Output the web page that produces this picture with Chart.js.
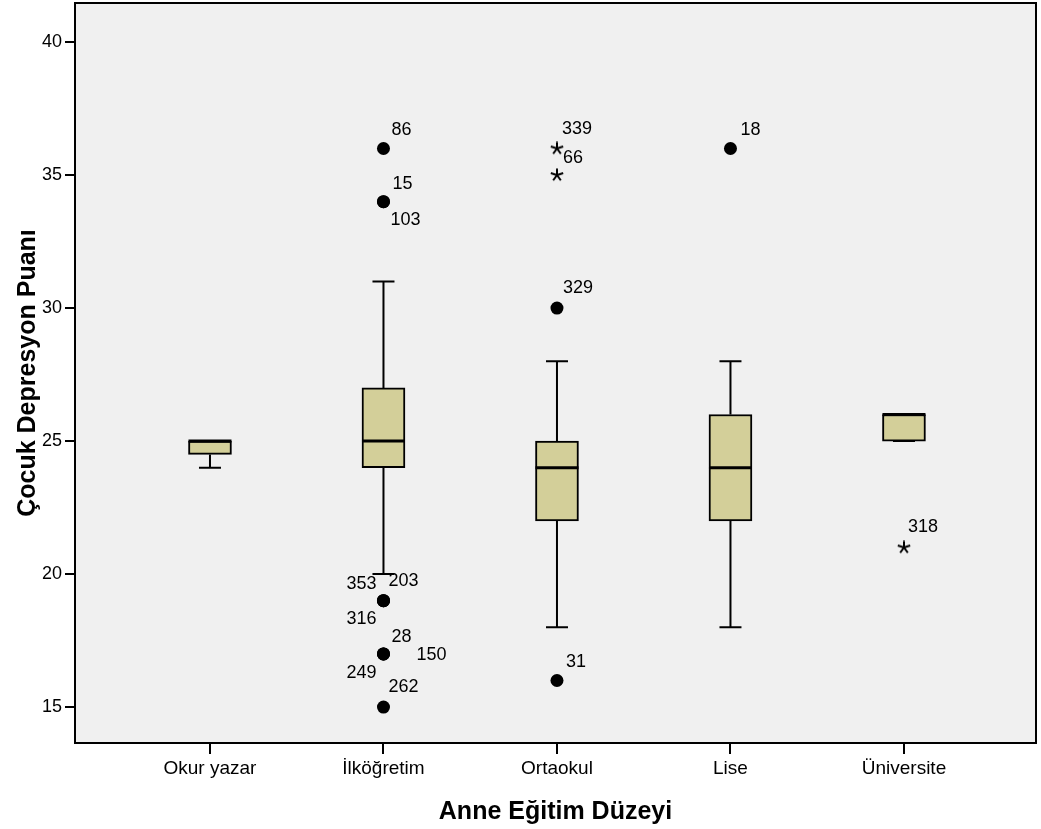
<!DOCTYPE html>
<html>
<head>
<meta charset="utf-8">
<script src="https://cdn.jsdelivr.net/npm/chart.js@4"></script>
<style>
  html, body { margin: 0; padding: 0; background: #fff; }
  #wrap { width: 1041px; height: 829px; }
</style>
</head>
<body>
<div id="wrap"><canvas id="chart" width="1041" height="829"></canvas></div>
<script>
// Box plot data: Çocuk Depresyon Puanı by Anne Eğitim Düzeyi
const categories = ["Okur yazar", "İlköğretim", "Ortaokul", "Lise", "Üniversite"];
const whiskerLow  = [24, 20, 18, 18, 25];
const q1          = [24.5, 24, 22, 22, 25];
const median      = [25, 25, 24, 24, 26];
const q3          = [25, 27, 25, 26, 26];
const whiskerHigh = [25, 31, 28, 28, 26];

// outliers (circles): category index, value, case id
const outCat = [1, 1, 1, 1, 1, 1, 1, 1, 1, 1, 2, 2, 3];
const outVal = [36, 34, 34, 19, 19, 19, 17, 17, 17, 15, 30, 16, 36];
const outId  = ["86", "15", "103", "353", "203", "316", "28", "150", "249", "262", "329", "31", "18"];

// extremes (stars)
const extCat = [2, 2, 4];
const extVal = [36, 35, 21];
const extId  = ["339", "66", "318"];

const yTicks = [15, 20, 25, 30, 35, 40];

// label placement relative to the mark (px)
const labelOffset = {
  "86": [8, -18], "15": [9, -18], "103": [7, 18],
  "353": [-37, -17], "203": [5, -20], "316": [-37, 18],
  "28": [8, -17], "150": [33, 1], "249": [-37, 19], "262": [5, -20],
  "329": [6, -20], "31": [9, -18], "18": [10, -18],
  "339": [5, -19], "66": [6, -17], "318": [4, -20]
};

const FONT = "'Liberation Sans', Arial, sans-serif";
const BOX_FILL = "#d3cf99";

// asterisk marker for extreme values
function makeStar() {
  const c = document.createElement("canvas");
  c.width = 14; c.height = 14;
  const g = c.getContext("2d");
  g.strokeStyle = "#000";
  g.lineWidth = 2;
  for (let k = 0; k < 5; k++) {
    const a = -Math.PI / 2 + k * 2 * Math.PI / 5;
    g.beginPath();
    g.moveTo(7, 7);
    g.lineTo(7 + Math.cos(a) * 6.5, 7 + Math.sin(a) * 6.5);
    g.stroke();
  }
  return c;
}

const plotFrame = {
  id: "plotFrame",
  beforeDraw(chart) {
    const { ctx, chartArea: a } = chart;
    ctx.save();
    ctx.fillStyle = "#f0f0f0";
    ctx.fillRect(a.left, a.top, a.right - a.left, a.bottom - a.top);
    ctx.restore();
  },
  afterDraw(chart) {
    const { ctx, chartArea: a } = chart;
    ctx.save();
    ctx.strokeStyle = "#000";
    ctx.lineWidth = 2;
    ctx.strokeRect(a.left, a.top, a.right - a.left, a.bottom - a.top);
    ctx.restore();
  }
};

// whiskers, caps, medians and case labels drawn from the scales
const boxParts = {
  id: "boxParts",
  beforeDatasetsDraw(chart) {
    const { ctx, scales: { x, y } } = chart;
    ctx.save();
    ctx.strokeStyle = "#000";
    ctx.lineWidth = 2;
    categories.forEach((_, i) => {
      const cx = x.getPixelForValue(i);
      const lo = y.getPixelForValue(whiskerLow[i]);
      const hi = y.getPixelForValue(whiskerHigh[i]);
      const b1 = y.getPixelForValue(q1[i]);
      const b3 = y.getPixelForValue(q3[i]);
      ctx.beginPath();
      ctx.moveTo(cx, lo); ctx.lineTo(cx, b1);
      ctx.moveTo(cx, b3); ctx.lineTo(cx, hi);
      ctx.moveTo(cx - 11, lo); ctx.lineTo(cx + 11, lo);
      ctx.moveTo(cx - 11, hi); ctx.lineTo(cx + 11, hi);
      ctx.stroke();
    });
    ctx.restore();
  },
  afterDatasetsDraw(chart) {
    const { ctx, scales: { x, y } } = chart;
    ctx.save();
    ctx.strokeStyle = "#000";
    ctx.lineWidth = 3;
    categories.forEach((_, i) => {
      const cx = x.getPixelForValue(i);
      const m = y.getPixelForValue(median[i]);
      ctx.beginPath();
      ctx.moveTo(cx - 21.5, m); ctx.lineTo(cx + 21.5, m);
      ctx.stroke();
    });
    ctx.fillStyle = "#000";
    ctx.font = "18px " + FONT;
    ctx.textBaseline = "middle";
    ctx.textAlign = "left";
    const put = (cat, val, id) => {
      const off = labelOffset[id] || [6, -18];
      ctx.fillText(id, x.getPixelForValue(cat) + off[0], y.getPixelForValue(val) + off[1]);
    };
    outId.forEach((id, k) => put(outCat[k], outVal[k], id));
    extId.forEach((id, k) => put(extCat[k], extVal[k], id));
    ctx.restore();
  }
};

new Chart(document.getElementById("chart"), {
  data: {
    datasets: [
      {
        type: "bar",
        data: categories.map((_, i) => ({ x: i, y: [q1[i], q3[i]] })),
        backgroundColor: BOX_FILL,
        borderColor: "#000",
        borderWidth: 2,
        borderSkipped: false,
        barThickness: 43
      },
      {
        type: "scatter",
        data: outVal.map((v, k) => ({ x: outCat[k], y: v })),
        pointStyle: "circle",
        pointRadius: 6.5,
        pointBackgroundColor: "#000",
        pointBorderWidth: 0
      },
      {
        type: "scatter",
        data: extVal.map((v, k) => ({ x: extCat[k], y: v })),
        pointStyle: makeStar(),
        pointRadius: 7
      }
    ]
  },
  options: {
    responsive: false,
    animation: false,
    layout: { autoPadding: false, padding: { top: 3, right: 5, left: 0, bottom: 0 } },
    plugins: { legend: { display: false }, tooltip: { enabled: false } },
    scales: {
      x: {
        type: "linear",
        offset: false,
        min: -0.778,
        max: 4.761,
        afterBuildTicks: (s) => { s.ticks = categories.map((_, i) => ({ value: i })); },
        afterFit: (s) => { s.height = 86; s.paddingLeft = 0; s.paddingRight = 0; },
        ticks: {
          callback: (v) => categories[v],
          color: "#000",
          font: { family: FONT, size: 19 },
          padding: 3,
          maxRotation: 0,
          autoSkip: false
        },
        grid: { offset: false, drawOnChartArea: false, drawTicks: true, tickLength: 11, color: "#000", lineWidth: 2 },
        border: { display: true, color: "#000", width: 2 },
        title: {
          display: true,
          text: "Anne Eğitim Düzeyi",
          color: "#000",
          font: { family: FONT, size: 25, weight: "bold" },
          padding: { top: 0, bottom: 2 }
        }
      },
      y: {
        min: 13.65,
        max: 41.47,
        afterBuildTicks: (s) => { s.ticks = yTicks.map((v) => ({ value: v })); },
        afterFit: (s) => { s.width = 75; s.paddingTop = 0; s.paddingBottom = 0; },
        ticks: {
          color: "#000",
          font: { family: FONT, size: 18 },
          padding: 3
        },
        grid: { drawOnChartArea: false, drawTicks: true, tickLength: 10, color: "#000", lineWidth: 2 },
        border: { display: true, color: "#000", width: 2 },
        title: {
          display: true,
          text: "Çocuk Depresyon Puanı",
          color: "#000",
          font: { family: FONT, size: 25, weight: "bold" },
          padding: { top: 13, bottom: 0 }
        }
      }
    }
  },
  plugins: [plotFrame, boxParts]
});
</script>
</body>
</html>
